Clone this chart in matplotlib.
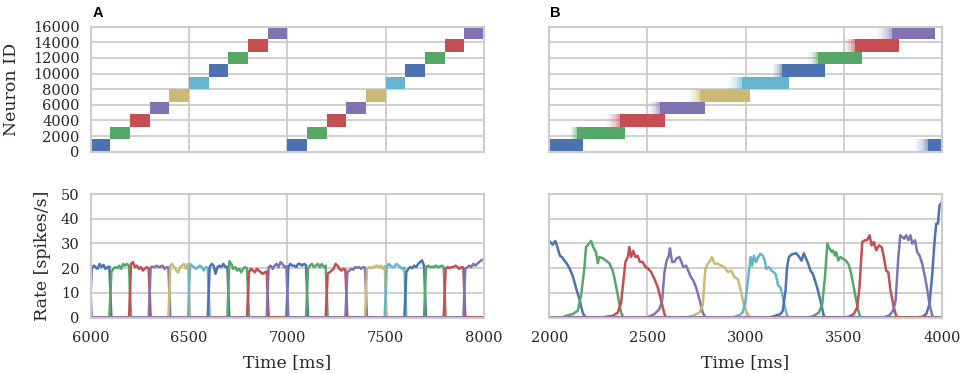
import numpy as np
import matplotlib
matplotlib.use("Agg")
import matplotlib.pyplot as plt

# ---------------- data ----------------
palette = ["#4C72B0", "#55A868", "#C44E52", "#8172B2", "#CCB974", "#64B5CD"]
n_groups = 10
group_size = 1600
group_colors = [palette[g % 6] for g in range(n_groups)]

# Panel A: sequence onsets (ms) for each group, two cycles of 1000 ms
A_cycle_starts = [6000, 7000]
A_step = 100  # duration of each assembly activation

# Panel A rates: 10 binned values (spikes/s) per activation, [cycle][group]
A_rates = [
    [  # cycle starting 6000
        [19.7, 21.0, 20.4, 19.7, 21.7, 20.4, 21.3, 19.7, 20.4, 20.6],
        [18.3, 19.7, 20.4, 20.0, 21.0, 19.7, 21.7, 21.0, 21.7, 20.8],
        [21.7, 22.4, 20.4, 21.0, 19.7, 20.4, 19.0, 19.7, 20.4, 19.8],
        [20.4, 20.6, 20.4, 21.0, 20.4, 20.6, 21.0, 19.7, 20.4, 20.2],
        [21.0, 21.7, 20.4, 19.0, 18.2, 20.4, 21.0, 21.7, 19.7, 21.7],
        [21.7, 21.0, 20.4, 19.7, 20.4, 21.0, 20.4, 19.0, 20.4, 20.0],
        [20.4, 21.7, 21.0, 17.7, 20.4, 21.0, 20.4, 21.7, 20.4, 20.6],
        [22.8, 21.7, 19.7, 20.4, 19.0, 19.7, 18.3, 19.7, 20.4, 19.8],
        [18.3, 19.7, 19.0, 18.3, 19.7, 19.0, 18.3, 17.7, 18.3, 18.6],
        [20.4, 21.0, 19.7, 21.0, 21.7, 20.4, 22.4, 21.7, 20.4, 20.8],
    ],
    [  # cycle starting 7000
        [20.4, 21.7, 21.0, 21.0, 20.4, 21.7, 21.7, 21.0, 21.7, 21.2],
        [19.7, 21.0, 21.7, 20.4, 21.0, 21.7, 20.4, 21.7, 20.4, 21.0],
        [17.7, 18.3, 19.0, 19.7, 21.7, 21.0, 19.7, 19.0, 19.7, 19.4],
        [18.3, 19.0, 19.7, 19.3, 20.4, 20.1, 20.4, 19.7, 20.4, 20.2],
        [19.7, 20.4, 20.0, 20.4, 20.6, 21.0, 20.4, 21.0, 19.7, 20.8],
        [20.4, 21.7, 21.0, 20.4, 20.6, 21.7, 21.0, 20.4, 19.7, 20.2],
        [18.3, 19.7, 20.4, 20.0, 21.0, 20.4, 21.7, 22.4, 23.1, 21.0],
        [20.4, 21.0, 20.4, 20.6, 20.4, 21.0, 20.4, 20.6, 21.0, 20.4],
        [19.7, 20.4, 20.0, 20.4, 20.4, 21.0, 20.4, 19.7, 20.4, 20.2],
        [19.7, 20.4, 21.0, 20.4, 21.7, 21.0, 21.7, 22.4, 23.1, 23.4],
    ],
]
A_bin_centers = [5, 15, 25, 35, 45, 55, 65, 75, 85, 95]  # ms after onset
# tail of the purple activation preceding the window
A_tail_group = 9
A_tail_t = [5995, 6005]
A_tail_r = [20.4, 0.0]

# Panel B: raster activations (ms) in order; group index for each
B_groups = [0, 1, 2, 3, 4, 5, 6, 7, 8, 9, 0]
B_fuzzy_start = [2000, 2105, 2293, 2505, 2700, 2910, 3135, 3320, 3500, 3670, 3865]
B_dense_start = [2000, 2140, 2360, 2565, 2770, 2980, 3185, 3370, 3560, 3745, 3930]
B_dense_end = [2173, 2387, 2590, 2795, 3025, 3220, 3405, 3595, 3780, 3965, 4000]

# Panel B rate traces (time ms, rate spikes/s) per activation
B_rate_t = [
    [2000, 2017, 2031, 2043, 2054, 2065, 2077, 2088, 2102, 2119, 2136, 2153, 2170, 2184],
    [2068, 2085, 2119, 2145, 2162, 2179, 2187, 2204, 2213, 2224, 2238, 2247, 2255, 2272, 2289,
     2306, 2323, 2332, 2349, 2366, 2377],
    [2270, 2289, 2323, 2349, 2366, 2377, 2388, 2400, 2408, 2417, 2428, 2439, 2450, 2462, 2476,
     2490, 2502, 2519, 2536, 2553, 2570, 2587, 2595],
    [2493, 2510, 2536, 2561, 2575, 2587, 2598, 2609, 2615, 2626, 2637, 2649, 2663, 2671, 2683,
     2697, 2711, 2722, 2734, 2748, 2765, 2782, 2796],
    [2697, 2731, 2765, 2782, 2790, 2796, 2808, 2816, 2828, 2842, 2859, 2876, 2893, 2910, 2927,
     2944, 2961, 2978, 2995, 3010, 3025],
    [2935, 2950, 2970, 2985, 3000, 3014, 3026, 3034, 3043, 3054, 3065, 3076, 3088, 3099, 3105,
     3119, 3133, 3144, 3153, 3167, 3178, 3187, 3201, 3212, 3221],
    [3119, 3153, 3178, 3190, 3204, 3212, 3221, 3235, 3246, 3258, 3272, 3286, 3297, 3309, 3320,
     3331, 3343, 3354, 3365, 3382, 3399, 3408],
    [3323, 3348, 3374, 3391, 3405, 3417, 3428, 3439, 3445, 3456, 3462, 3473, 3484, 3496, 3510,
     3524, 3535, 3547, 3561, 3575, 3586],
    [3493, 3527, 3552, 3569, 3581, 3595, 3609, 3620, 3632, 3643, 3654, 3666, 3680, 3694, 3705,
     3717, 3728, 3739, 3756, 3768, 3779],
    [3697, 3731, 3752, 3765, 3779, 3789, 3799, 3809, 3819, 3830, 3841, 3850, 3864, 3875, 3887,
     3901, 3915, 3926, 3938, 3952, 3961],
    [3867, 3901, 3921, 3938, 3952, 3964, 3972, 3981, 3989, 3998, 4000],
]
B_rate_r = [
    [31, 29.5, 31, 28, 25, 24.5, 23, 22, 20, 17, 12, 7.5, 2, 0],
    [0, 0.7, 1.4, 2.7, 9, 20, 28.5, 30, 31, 28.5, 26.5, 22, 24.5, 24, 23, 22, 19, 16, 9, 2, 0],
    [0, 0.3, 0.7, 2, 6, 14.3, 22.5, 24.5, 28.5, 24.5, 27, 24.5, 25, 22.5, 22.5, 20.4, 20, 18.4,
     15.6, 12.2, 6.8, 1.4, 0],
    [0, 0.4, 1.4, 3.4, 6.8, 18.4, 23, 25, 28, 22.5, 22.5, 24, 24.5, 23, 20.4, 21, 18.4, 16.3,
     15, 12.2, 7.5, 2, 0],
    [0, 0.7, 2, 4.8, 14.3, 19.7, 21.8, 22.5, 24.5, 21.8, 21.8, 21, 20.4, 18.4, 19, 16.3, 15.6,
     10.2, 4, 1.5, 0],
    [0, 0.5, 1, 2, 6.8, 16.3, 24.5, 21, 25, 22.4, 24.5, 25.8, 25, 23, 19.7, 20.4, 19, 18.3,
     17.7, 12.9, 12.2, 9.5, 4, 0.7, 0],
    [0, 0.7, 1.4, 2.7, 10.9, 20.4, 24.5, 25.5, 25.8, 26, 24.7, 23, 26, 23.8, 21.7, 19, 17.7,
     15, 12.2, 6.8, 0.7, 0],
    [0, 0.7, 2, 5.4, 16.3, 29.9, 27.9, 26.5, 27.2, 25.1, 26.5, 23.1, 24.5, 23.8, 23.1, 21.7,
     19, 14.3, 8.2, 2.7, 0],
    [0, 0.3, 1.4, 4.1, 12.2, 30.6, 31.3, 31.3, 33.3, 29.2, 30.6, 27.2, 29.2, 28.5, 24.5, 19,
     18.3, 10.9, 4.1, 0.7, 0],
    [0, 0.7, 2.7, 6.8, 24.5, 33.3, 32.6, 31.9, 33.3, 31.3, 33.3, 29.9, 31.3, 26.5, 25.1, 21.7,
     16.3, 11.5, 5.4, 0.7, 0],
    [0, 0.3, 1.4, 5.4, 17.7, 31.3, 38, 38, 45.5, 46.2, 46],
]

A_xlim = (6000, 8000)
B_xlim = (2000, 4000)
A_xticks = [6000, 6500, 7000, 7500, 8000]
B_xticks = [2000, 2500, 3000, 3500, 4000]
id_ticks = [0, 2000, 4000, 6000, 8000, 10000, 12000, 14000, 16000]
rate_ticks = [0, 10, 20, 30, 40, 50]

# ---------------- style ----------------
plt.rcParams.update({
    "font.family": ["DejaVu Serif"],
    "axes.edgecolor": "#cccccc",
    "axes.linewidth": 1.5,
    "grid.color": "#cccccc",
    "grid.linewidth": 1.3,
    "xtick.major.size": 0,
    "ytick.major.size": 0,
    "xtick.major.pad": 10,
    "ytick.major.pad": 8,
    "xtick.labelsize": 10.5,
    "ytick.labelsize": 10.5,
    "axes.labelsize": 12.5,
    "text.color": "#262626",
    "xtick.color": "#262626",
    "ytick.color": "#262626",
    "axes.labelcolor": "#262626",
})

W, H = 964, 374
fig = plt.figure(figsize=(W / 100, H / 100), dpi=100)


def px_axes(l, t, r, b):
    return fig.add_axes([l / W, 1 - b / H, (r - l) / W, (b - t) / H])


axA1 = px_axes(90.7, 26.7, 484, 151.7)
axB1 = px_axes(549.3, 26.7, 941.7, 151.7)
axA2 = px_axes(90.7, 194, 484, 317.5)
axB2 = px_axes(549.3, 194, 941.7, 317.5)

for ax in (axA1, axB1, axA2, axB2):
    ax.set_axisbelow(True)
    ax.grid(True)

# ---- raster A ----
for c0 in A_cycle_starts:
    for g in range(n_groups):
        axA1.bar(c0 + g * A_step, group_size, width=A_step, bottom=g * group_size,
                 align="edge", color=group_colors[g], linewidth=0)

# ---- raster B ----
fade_alphas = [0.06, 0.12, 0.2, 0.3, 0.42, 0.58]
for g, fs, ds, de in zip(B_groups, B_fuzzy_start, B_dense_start, B_dense_end):
    col = group_colors[g]
    if ds > fs:
        edges = np.linspace(fs, ds, len(fade_alphas) + 1)
        for k, a in enumerate(fade_alphas):
            axB1.bar(edges[k], group_size, width=edges[k + 1] - edges[k],
                     bottom=g * group_size, align="edge", color=col, alpha=a, linewidth=0)
    axB1.bar(ds, group_size, width=de - ds, bottom=g * group_size, align="edge",
             color=col, linewidth=0)

for ax in (axA1, axB1):
    ax.set_ylim(0, 16000)
    ax.set_yticks(id_ticks)
axA1.set_xlim(*A_xlim)
axB1.set_xlim(*B_xlim)
axA1.set_xticks(A_xticks)
axB1.set_xticks(B_xticks)
axA1.set_xticklabels([])
axB1.set_xticklabels([])
axB1.set_yticklabels([])
axA1.set_ylabel("Neuron ID", labelpad=9)

# ---- rates A ----
for g in range(n_groups):
    ts, rs = [A_xlim[0]], [0.0]
    if g == A_tail_group:
        ts, rs = list(A_tail_t), list(A_tail_r)
    for ci, c0 in enumerate(A_cycle_starts):
        onset = c0 + g * A_step
        ts.append(onset - 5)
        rs.append(0.0)
        ts += [onset + o for o in A_bin_centers]
        rs += A_rates[ci][g]
        if onset + A_step + 5 <= A_xlim[1]:
            ts.append(onset + A_step + 5)
            rs.append(0.0)
    if ts[-1] < A_xlim[1] and rs[-1] == 0:
        ts.append(A_xlim[1])
        rs.append(0.0)
    axA2.plot(ts, rs, color=group_colors[g], lw=1.8, solid_joinstyle="round")

# ---- rates B ----
for g in range(n_groups):
    ts, rs = [], []
    for gi, t, r in zip(B_groups, B_rate_t, B_rate_r):
        if gi == g:
            ts += t
            rs += r
    if ts[0] > B_xlim[0]:
        ts = [B_xlim[0]] + ts
        rs = [0.0] + rs
    if ts[-1] < B_xlim[1]:
        ts.append(B_xlim[1])
        rs.append(0.0)
    axB2.plot(ts, rs, color=group_colors[g], lw=1.8, solid_joinstyle="round")

for ax in (axA2, axB2):
    ax.set_ylim(0, 50)
    ax.set_yticks(rate_ticks)
    ax.set_xlabel("Time [ms]", labelpad=6)
axA2.set_xlim(*A_xlim)
axB2.set_xlim(*B_xlim)
axA2.set_xticks(A_xticks)
axB2.set_xticks(B_xticks)
axB2.set_yticklabels([])
axA2.set_ylabel("Rate [spikes/s]", labelpad=7)

fig.text(92.5 / W, 1 - 13 / H, "A", family="Liberation Sans", weight="bold",
         fontsize=10.5, va="center", ha="left", color="black")
fig.text(550 / W, 1 - 13 / H, "B", family="Liberation Sans", weight="bold",
         fontsize=10.5, va="center", ha="left", color="black")

fig.savefig("out.png", dpi=100)
